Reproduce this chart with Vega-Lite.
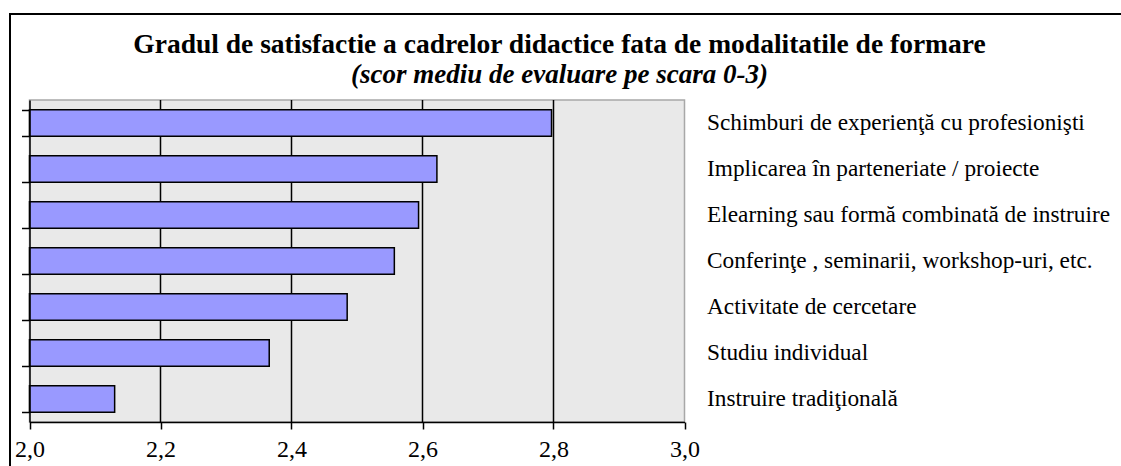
{
  "$schema": "https://vega.github.io/schema/vega-lite/v6.json",
  "width": 1111,
  "height": 452,
  "autosize": "none",
  "padding": {"left": 10, "top": 14, "right": 0, "bottom": 0},
  "background": "white",
  "title": {
    "text": "Gradul de satisfactie a cadrelor didactice fata de modalitatile de formare",
    "subtitle": "(scor mediu de evaluare pe scara 0-3)",
    "font": "Liberation Serif",
    "fontSize": 27.5,
    "fontWeight": "bold",
    "color": "black",
    "subtitleFont": "Liberation Serif",
    "subtitleFontSize": 27,
    "subtitleFontStyle": "italic",
    "subtitleFontWeight": "bold",
    "subtitleColor": "black",
    "anchor": "middle",
    "frame": "group",
    "offset": -74,
    "dx": -6,
    "subtitlePadding": 4
  },
  "data": {
    "values": [
      {"modalitate": "Schimburi de experienţă cu profesionişti", "scor": 2.797},
      {"modalitate": "Implicarea în parteneriate / proiecte", "scor": 2.622},
      {"modalitate": "Elearning sau formă combinată de instruire", "scor": 2.594},
      {"modalitate": "Conferinţe , seminarii, workshop-uri, etc.", "scor": 2.557},
      {"modalitate": "Activitate de cercetare", "scor": 2.485},
      {"modalitate": "Studiu individual", "scor": 2.366},
      {"modalitate": "Instruire tradiţională", "scor": 2.13}
    ]
  },
  "layer": [
    {
      "data": {"values": [{"plot": "fundal"}]},
      "mark": {"type": "rect", "fill": "#e9e9e9", "stroke": "#a8a8a8", "strokeWidth": 1.5},
      "encoding": {
        "x": {"datum": 2, "type": "quantitative"},
        "x2": {"datum": 3},
        "y": {"datum": 0, "type": "quantitative", "scale": {"domain": [0, 1], "range": [86, 408]}, "axis": null},
        "y2": {"datum": 1}
      }
    },
    {
      "data": {"values": [{"grila": 2.2}, {"grila": 2.4}, {"grila": 2.6}, {"grila": 2.8}]},
      "mark": {"type": "rule", "stroke": "black", "strokeWidth": 1.5},
      "encoding": {
        "x": {"field": "grila", "type": "quantitative"},
        "y": {"datum": 0, "type": "quantitative", "scale": {"domain": [0, 1], "range": [86, 408]}, "axis": null},
        "y2": {"datum": 1}
      }
    },
    {
      "mark": {"type": "bar", "fill": "#9999ff", "stroke": "black", "strokeWidth": 1.5},
      "encoding": {
        "y": {
          "field": "modalitate",
          "type": "nominal",
          "sort": null,
          "scale": {"range": [86, 408], "paddingInner": 0.42, "paddingOuter": 0.21},
          "axis": {
            "orient": "left",
            "offset": -19.5,
            "zindex": 1,
            "title": null,
            "labels": false,
            "ticks": true,
            "tickBand": "extent",
            "tickSize": 8,
            "tickWidth": 1.5,
            "tickColor": "black",
            "domainColor": "black",
            "domainWidth": 1.5,
            "grid": false
          }
        },
        "x": {
          "field": "scor",
          "type": "quantitative",
          "scale": {"domain": [2, 3], "range": [19.5, 674.5], "zero": false, "nice": false},
          "axis": {
            "orient": "bottom",
            "offset": -44,
            "zindex": 1,
            "title": null,
            "values": [2, 2.2, 2.4, 2.6, 2.8, 3],
            "labelExpr": "replace(format(datum.value, '.1f'), '.', ',')",
            "grid": false,
            "domainColor": "black",
            "domainWidth": 1.5,
            "tickColor": "black",
            "tickWidth": 1.5,
            "tickSize": 7,
            "labelPadding": 8,
            "labelFlush": false,
            "labelFontSize": 24
          }
        },
        "x2": {"datum": 2}
      }
    },
    {
      "mark": {"type": "bar", "opacity": 0},
      "encoding": {
        "y": {
          "field": "modalitate",
          "type": "nominal",
          "sort": null,
          "scale": {"range": [86, 408], "paddingInner": 0.42, "paddingOuter": 0.21},
          "axis": {
            "orient": "right",
            "offset": -436.5,
            "title": null,
            "ticks": false,
            "domain": false,
            "grid": false,
            "labelPadding": 22,
            "labelAlign": "left",
            "labelBaseline": "middle",
            "labelFontSize": 23.3,
            "labelLimit": 0
          }
        },
        "x": {"field": "scor", "type": "quantitative"},
        "x2": {"datum": 2}
      }
    }
  ],
  "resolve": {"scale": {"y": "independent"}, "axis": {"y": "independent"}},
  "config": {
    "font": "Liberation Serif",
    "view": {"fill": "white", "stroke": "black", "strokeWidth": 2, "strokeDash": [1111, 1563, 452]},
    "axis": {"labelFont": "Liberation Serif", "labelColor": "black"}
  }
}
